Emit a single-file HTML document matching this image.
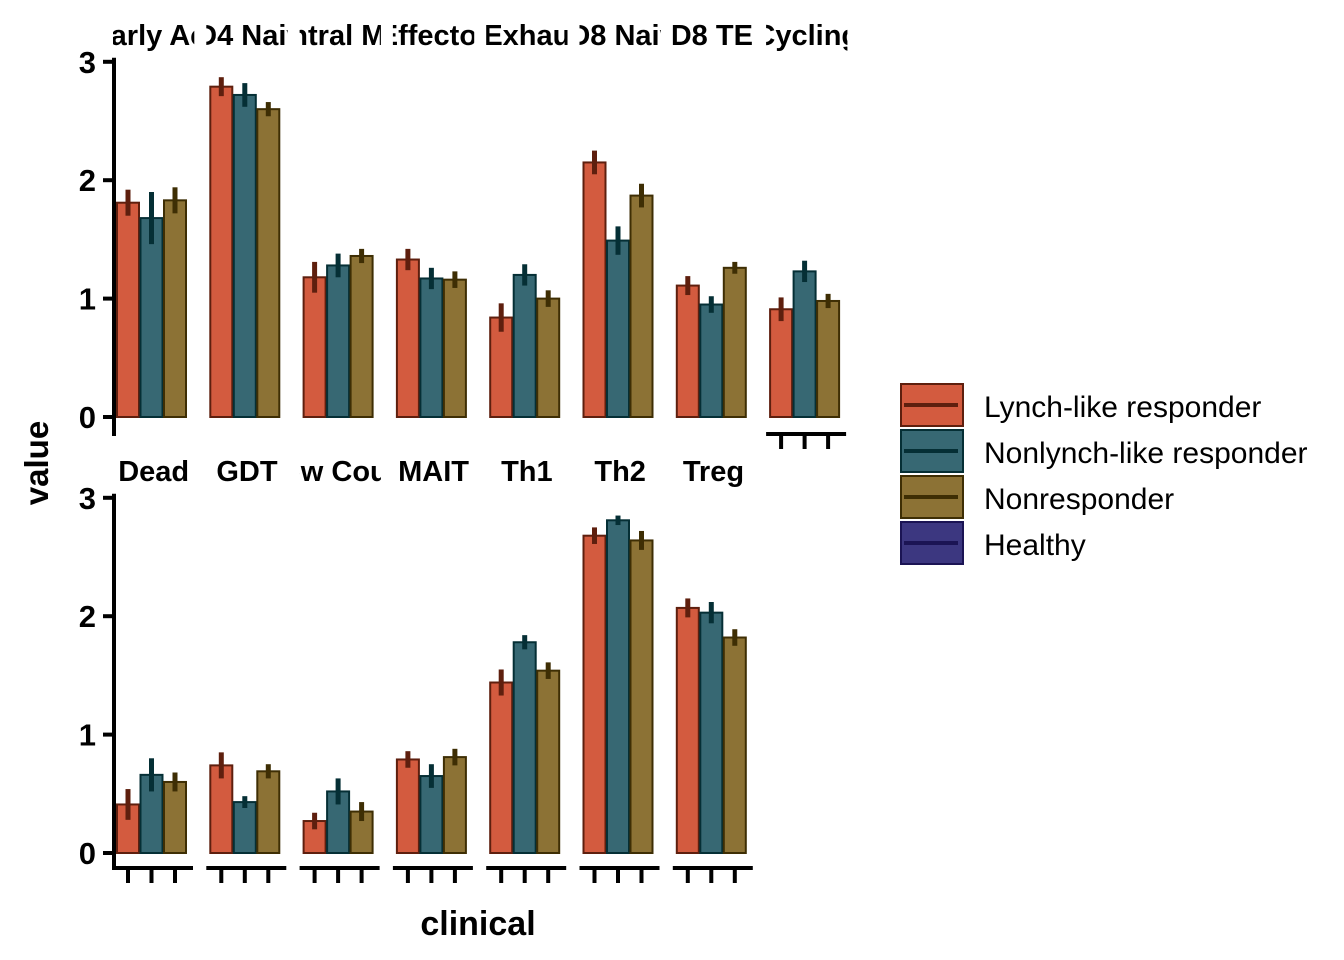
<!DOCTYPE html>
<html><head><meta charset="utf-8"><style>
html,body{margin:0;padding:0;background:#fff}
svg{display:block}
text{font-family:"Liberation Sans",Arial,sans-serif}
</style></head><body>
<svg id="c" width="1344" height="960" xmlns="http://www.w3.org/2000/svg"></svg>
<script>
const topPanels=["Early Act","CD4 Naive","Central Mem","Effector","Exhau","CD8 Naive","CD8 TEM","Cycling"];
const botPanels=["Dead","GDT","Low Count","MAIT","Th1","Th2","Treg"];
const groups=["Lynch-like responder","Nonlynch-like responder","Nonresponder","Healthy"];
const topVals=[[1.81,1.68,1.83],[2.79,2.72,2.60],[1.18,1.28,1.36],[1.33,1.17,1.16],[0.84,1.20,1.00],[2.15,1.49,1.87],[1.11,0.95,1.26],[0.91,1.23,0.98]];
const topErr=[[0.11,0.22,0.11],[0.08,0.1,0.06],[0.13,0.1,0.06],[0.09,0.09,0.07],[0.12,0.09,0.07],[0.1,0.12,0.1],[0.08,0.07,0.05],[0.1,0.09,0.06]];
const botVals=[[0.41,0.66,0.60],[0.74,0.43,0.69],[0.27,0.52,0.35],[0.79,0.65,0.81],[1.44,1.78,1.54],[2.68,2.81,2.64],[2.07,2.03,1.82]];
const botErr=[[0.13,0.14,0.08],[0.11,0.05,0.06],[0.07,0.11,0.08],[0.07,0.1,0.07],[0.11,0.06,0.07],[0.07,0.04,0.08],[0.08,0.09,0.07]];
const yTicks=[0,1,2,3];
const fills=["#D35B3F","#376873","#8C7235","#3C3780"];
const strokes=["#5E1F0E","#052F35","#3E2E04","#1B1454"];
const svg=document.getElementById('c');
const NS="http://www.w3.org/2000/svg";
function el(t,a,p){const e=document.createElementNS(NS,t);for(const k in a)e.setAttribute(k,a[k]);(p||svg).appendChild(e);return e;}
const x0=117,pitch=93.3,bw=22,bstep=23.5;
function xBar(p,g){return x0+p*pitch+g*bstep;}
function rows(names,vals,errs,y0,pre,xaxisFor){
  const ys=v=>y0-v*118.4;
  const g=el('g',{});
  
  
  const ax=el('line',{x1:114,x2:114,y1:ys(3)-4,y2:pre==='top'?436:870,stroke:'#000','stroke-width':4},g);
  
  yTicks.forEach(t=>{
    el('line',{x1:103,x2:114,y1:ys(t),y2:ys(t),stroke:'#000','stroke-width':4},g);
    const tx=el('text',{x:96,y:ys(t)+11,'font-size':31,'font-weight':'bold','text-anchor':'end'},g);
    tx.textContent=t;
    
    
  });
  names.forEach((n,p)=>{
    const px=x0+p*pitch-4;
    const cid=pre+'clip'+p;
    const cp=el('clipPath',{id:cid},g);
    el('rect',{x:px,y:y0-395,width:pitch-12,height:40},cp);
    const st=el('text',{x:px+(pitch-12)/2,y:ys(3)-17,'font-size':29,'font-weight':'bold','text-anchor':'middle','clip-path':'url(#'+cid+')'},g);
    st.textContent=n;
    
    
    vals[p].forEach((v,i)=>{
      const r=el('rect',{x:xBar(p,i),y:ys(v),width:bw,height:ys(0)-ys(v),fill:fills[i],stroke:strokes[i],'stroke-width':2},g);
      
      
      const e=errs[p][i];
      const l=el('line',{x1:xBar(p,i)+bw/2,x2:xBar(p,i)+bw/2,y1:ys(v+e),y2:ys(v-e),stroke:strokes[i],'stroke-width':5},g);
      
      
    });
    if(xaxisFor(p)){
      const ay=pre==='top'?434:868;
      const xa=el('line',{x1:px,x2:px+80,y1:ay,y2:ay,stroke:'#000','stroke-width':4},g);
      
      
      for(let i=0;i<3;i++)el('line',{x1:xBar(p,i)+bw/2,x2:xBar(p,i)+bw/2,y1:ay,y2:ay+15,stroke:'#000','stroke-width':4},g);
    }
  });
}
rows(topPanels,topVals,topErr,417,'top',p=>p===7);
rows(botPanels,botVals,botErr,853,'bottom',p=>true);
const yl=el('text',{x:0,y:0,'font-size':33,'font-weight':'bold','text-anchor':'middle',transform:'translate(48,463) rotate(-90)'});
yl.textContent='value';
const xl=el('text',{x:478,y:935,'font-size':34,'font-weight':'bold','text-anchor':'middle'});
xl.textContent='clinical';
groups.forEach((gname,i)=>{
  const y=383+i*46;
  const k=el('rect',{x:901,y:y+1,width:62,height:42,fill:fills[i],stroke:strokes[i],'stroke-width':2});
  
  el('line',{x1:904,x2:958,y1:y+22,y2:y+22,stroke:strokes[i],'stroke-width':4});
  const t=el('text',{x:984,y:y+34,'font-size':30});
  t.textContent=gname;
});
</script>
</body></html>
